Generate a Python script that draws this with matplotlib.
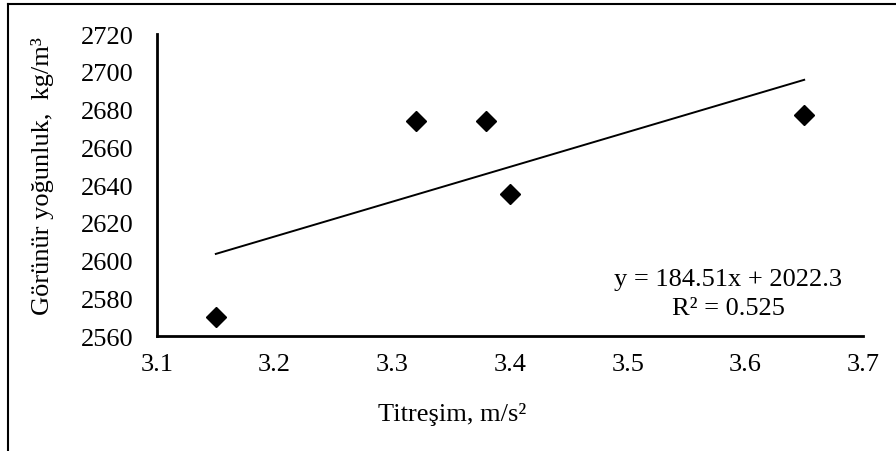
import matplotlib
matplotlib.use('Agg')
import matplotlib.pyplot as plt
import numpy as np
from matplotlib.lines import Line2D

plt.rcParams['font.family'] = ['Liberation Serif', 'DejaVu Serif']

# vibration (m/s2) vs apparent density (kg/m3)
titresim = [3.15, 3.32, 3.38, 3.40, 3.65]
yogunluk = [2570, 2674, 2674, 2635, 2677]

# linear trendline as reported
egim = 184.51
kesisim = 2022.3
r_kare = 0.525

x_ticks = [3.1, 3.2, 3.3, 3.4, 3.5, 3.6, 3.7]
y_ticks = [2560, 2580, 2600, 2620, 2640, 2660, 2680, 2700, 2720]

FS = 19

fig = plt.figure(figsize=(8.96, 4.52), dpi=100)
ax = fig.add_axes([0.1752, 0.2544, 0.788, 0.668])

ax.plot(titresim, yogunluk, linestyle='none', marker='D', markersize=10.5,
        color='black', zorder=3)

xt = np.array([min(titresim), max(titresim)])
ax.plot(xt, egim * xt + kesisim, color='black', linewidth=1.4)

ax.set_xlim(3.1, 3.7)
ax.set_ylim(2560, 2720)
ax.set_xticks(x_ticks)
ax.set_yticks(y_ticks)
ax.set_xticklabels([f'{v:.1f}' for v in x_ticks])
ax.tick_params(length=0, labelsize=FS)
ax.tick_params(axis='x', pad=12)
ax.tick_params(axis='y', pad=17)

for side in ['top', 'right']:
    ax.spines[side].set_visible(False)
for side in ['left', 'bottom']:
    ax.spines[side].set_linewidth(2)

fig.text(452 / 896, 1 - 415 / 452, 'Titreşim, m/s²', ha='center', va='center', fontsize=FS)
fig.text(43 / 896, 1 - 176 / 452, 'Görünür yoğunluk,  kg/m³', ha='center', va='center',
         rotation=90, fontsize=FS)

fig.text(728 / 896, 1 - 280 / 452, f'y = {egim}x + {kesisim}', ha='center', va='center', fontsize=FS)
fig.text(728 / 896, 1 - 309 / 452, f'R² = {r_kare}', ha='center', va='center', fontsize=FS)

# chart area frame (top and left edges)
fig.add_artist(Line2D([8 / 896, 1.0], [1 - 5 / 452, 1 - 5 / 452], color='black', linewidth=1.5))
fig.add_artist(Line2D([8 / 896, 8 / 896], [1 - 5 / 452, 0.0], color='black', linewidth=1.5))

fig.savefig('out.png', dpi=100)
